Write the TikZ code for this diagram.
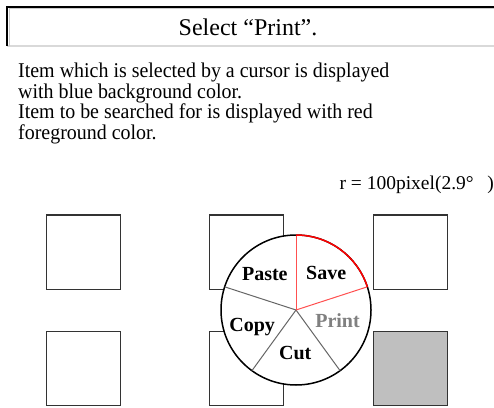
\documentclass[tikz,border=0pt]{standalone}
\usepackage{fontspec}
\setmainfont{Liberation Serif}
\newfontfamily\narrowserif[FakeStretch=0.95]{Liberation Serif}
\tikzset{>=stealth}
\tikzset{cell/.style={draw=black!80, line width=1pt, minimum size=74pt, inner sep=0pt}}
\tikzset{item/.style={font=\fontsize{20}{20}\selectfont\bfseries, inner sep=0pt}}
\definecolor{pinkred}{RGB}{255,80,80}

\begin{document}
\begin{tikzpicture}[x=1pt, y=1pt]
    \useasboundingbox (0,0) rectangle (494,407);
    % header bar
    \draw [black!15, line width=1.5pt] (7,361) -- (494,361);
    \draw [black, line width=2pt] (7,361) -- (7,400) -- (494,400);
    \draw [black!20, line width=0.8pt] (9.5,361) -- (9.5,398.5) -- (494,398.5);
    \node (title) at (248,380) {\fontsize{24}{24}\selectfont Select “Print”.};
    \node [anchor=north west, align=left, inner sep=0pt, font=\narrowserif\fontsize{21}{20.5}\selectfont] (note) at (18,344)
        {Item which is selected by a cursor is displayed\\
         with blue background color.\\
         Item to be searched for is displayed with red\\
         foreground color.};
    \node [anchor=base east, inner sep=0pt, font=\fontsize{19.5}{19.5}\selectfont] (radius) at (494,217) {r = 100pixel(2.9°\hspace{0.7em})};
    % targets
    \node [cell] (a1) at (83.7,155) {};
    \node [cell] (a2) at (246.3,155) {};
    \node [cell] (a3) at (410.3,155) {};
    \node [cell] (b1) at (83.7,39) {};
    \node [cell] (b2) at (246.3,39) {};
    \node [cell, fill=black!25] (b3) at (410.3,39) {};
    % pie menu
    \node [circle, draw, line width=1.5pt, fill=white, minimum size=150pt, inner sep=0pt, outer sep=0pt] (pie) at (296,97) {};
    \draw [black!60, line width=1pt] (pie.center) -- (pie.-54);
    \draw [black!60, line width=1pt] (pie.center) -- (pie.-126);
    \draw [black!60, line width=1pt] (pie.center) -- (pie.162);
    \draw [pinkred, line width=1pt] (pie.center) -- (pie.90);
    \draw [pinkred, line width=1pt] (pie.center) -- (pie.18);
    \draw [red, line width=1.5pt] (pie.90) arc (90:18:75pt);
    \node [item] (paste) at ([shift={(131:47.5)}]pie.center) {Paste};
    \node [item] (save) at ([shift={(51:48)}]pie.center) {Save};
    \node [item, text=black!50] (print) at ([shift={(-15:43)}]pie.center) {Print};
    \node [item] (copy) at ([shift={(201:47)}]pie.center) {Copy};
    \node [item] (cut) at ([shift={(-91:43)}]pie.center) {Cut};
\end{tikzpicture}
\end{document}
